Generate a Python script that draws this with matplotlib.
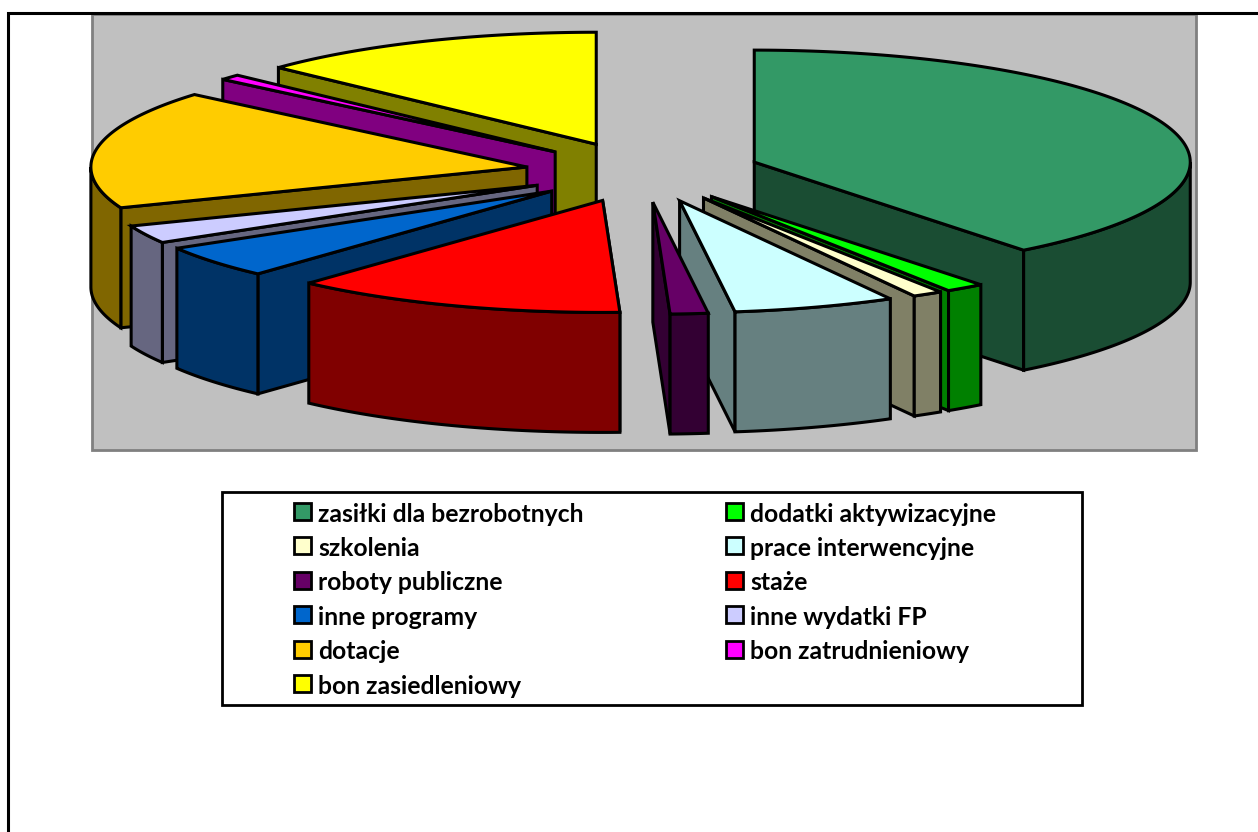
#imports
import matplotlib
matplotlib.use("Agg")
import matplotlib.pyplot as plt
from matplotlib.patches import Polygon, Rectangle
import numpy as np

# values, in percent
labels = ["zasiłki dla bezrobotnych", "dodatki aktywizacyjne", "szkolenia", "prace interwencyjne",
          "roboty publiczne", "staże", "inne programy", "inne wydatki FP", "dotacje",
          "bon zatrudnieniowy", "bon zasiedleniowy"]
values = [39.4, 1.45, 1.12, 6.0, 1.4, 12.4, 4.7, 2.6, 17.13, 0.8, 13.0]
colors = ["#339966", "#00FF00", "#FFFFCC", "#CCFFFF", "#660066", "#FF0000",
          "#0066CC", "#CCCCFF", "#FFCC00", "#FF00FF", "#FFFF00"]

# pie geometry in pixels
CX, CY = 643, 172
RX, RY = 436, 112
DEPTH = 120
EXPLODE = 0.27


def darker(color):
    """Side walls are the top colour at half brightness"""
    return tuple(c / 2 for c in matplotlib.colors.to_rgb(color))


def point(t, cx, cy):
    """Point on the ellipse, angle in degrees clockwise from the top"""
    rad = np.radians(t)
    return cx + RX * np.sin(rad), cy - RY * np.cos(rad)


def draw_slice(ax, start, end, color):
    mid = np.radians((start + end) / 2)
    cx = CX + EXPLODE * RX * np.sin(mid)
    cy = CY - EXPLODE * RY * np.cos(mid)
    wall = darker(color)
    style = dict(edgecolor="black", linewidth=2.2, joinstyle="miter")

    # the straight wall facing the viewer
    edge = end if (start + end) / 2 < 180 else start
    ex, ey = point(edge, cx, cy)
    ax.add_patch(Polygon([(cx, cy), (ex, ey), (ex, ey + DEPTH), (cx, cy + DEPTH)], facecolor=wall, **style))

    # the outer wall, only on the front half of the ellipse
    front_a, front_b = max(start, 90), min(end, 270)
    if front_b > front_a:
        ts = np.linspace(front_a, front_b, 80)
        px, py = point(ts, cx, cy)
        outline = list(zip(px, py)) + list(zip(px[::-1], py[::-1] + DEPTH))
        ax.add_patch(Polygon(outline, facecolor=wall, **style))

    # top face
    ts = np.linspace(start, end, 150)
    px, py = point(ts, cx, cy)
    ax.add_patch(Polygon([(cx, cy)] + list(zip(px, py)), facecolor=color, **style))


fig = plt.figure(figsize=(12.58, 8.32), dpi=100)
ax = fig.add_axes([0, 0, 1, 1])
ax.set_xlim(0, 1258)
ax.set_ylim(832, 0)
ax.axis("off")

# chart frame, open on the bottom and the right
ax.plot([8, 8, 1258], [832, 12.5, 12.5], color="black", linewidth=2.2, solid_joinstyle="miter")
ax.add_patch(Rectangle((92, 14), 1104, 436, facecolor="#C0C0C0", edgecolor="#808080", linewidth=2))

# back to front: left side from the top down, then right side from the top down
edges = np.concatenate([[0], np.cumsum(values)]) / sum(values) * 360
order = [10, 9, 8, 7, 6, 5, 0, 1, 2, 3, 4]
for i in order:
    draw_slice(ax, edges[i], edges[i + 1], colors[i])

# legend
ax.add_patch(Rectangle((222, 492), 860, 213, facecolor="white", edgecolor="black", linewidth=2))
for i, label in enumerate(labels):
    row = i // 2
    y = 512 + row * 34.4
    box_x = 294 if i % 2 == 0 else 726
    ax.add_patch(Rectangle((box_x, y - 9), 17, 17, facecolor=colors[i], edgecolor="black", linewidth=2))
    ax.text(box_x + 24, y + 2, label, family="Lato", fontweight="bold", fontsize=17.8, va="center", ha="left", color="black")

plt.savefig("out.png", dpi=100)
